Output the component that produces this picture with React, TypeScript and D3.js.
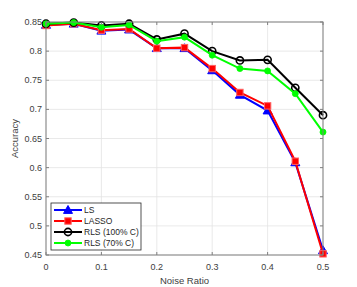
import React from "react";
import * as d3 from "d3";

const noiseRatios = [0, 0.05, 0.1, 0.15, 0.2, 0.25, 0.3, 0.35, 0.4, 0.45, 0.5];
const lsValues = [0.845, 0.847, 0.835, 0.837, 0.805, 0.805, 0.767, 0.725, 0.698, 0.609, 0.458];
const lassoValues = [0.844, 0.847, 0.836, 0.838, 0.805, 0.806, 0.770, 0.729, 0.706, 0.611, 0.452];
const rls100Values = [0.847, 0.849, 0.844, 0.847, 0.820, 0.830, 0.800, 0.784, 0.785, 0.737, 0.690];
const rls70Values = [0.847, 0.849, 0.841, 0.845, 0.817, 0.824, 0.793, 0.770, 0.766, 0.727, 0.661];
const xTicks = [0, 0.1, 0.2, 0.3, 0.4, 0.5];
const yTicks = [0.45, 0.5, 0.55, 0.6, 0.65, 0.7, 0.75, 0.8, 0.85];
const seriesNames = ["LS", "LASSO", "RLS (100% C)", "RLS (70% C)"];

const W = 357, H = 287;
const L = 46, R = 323, T = 22, B = 255;
const font = "Helvetica, Arial, 'Liberation Sans', sans-serif";

const series = [
  { name: seriesNames[0], values: lsValues, color: "#0000ff", marker: "tri" },
  { name: seriesNames[1], values: lassoValues, color: "#ff0000", marker: "sq" },
  { name: seriesNames[2], values: rls100Values, color: "#000000", marker: "circ" },
  { name: seriesNames[3], values: rls70Values, color: "#00ff00", marker: "dot" },
];

function Marker({ type, x, y, color }: { type: string; x: number; y: number; color: string }) {
  if (type === "tri") {
    const s = 4.5;
    return <path d={`M${x},${y - s}L${x + s},${y + s * 0.75}L${x - s},${y + s * 0.75}Z`} fill={color} stroke={color} strokeWidth={1} />;
  }
  if (type === "sq") {
    const s = 3.2;
    return <rect x={x - s} y={y - s} width={2 * s} height={2 * s} fill={color} stroke="#ff6060" strokeWidth={1} />;
  }
  if (type === "circ") {
    return <circle cx={x} cy={y} r={3.6} fill="none" stroke={color} strokeWidth={1.6} />;
  }
  return <circle cx={x} cy={y} r={3} fill={color} stroke={color} strokeWidth={0.8} />;
}

export default function App() {
  const x = d3.scaleLinear().domain([0, 0.5]).range([L, R]);
  const y = d3.scaleLinear().domain([0.45, 0.85]).range([B, T]);
  const line = d3.line<number>().x((_, i) => x(noiseRatios[i])).y((d) => y(d));
  const axisColor = "#808080";
  const textColor = "#404040";
  const legX = 51, legY = 203, legW = 90, legH = 47;

  return (
    <svg width={W} height={H} style={{ position: "absolute", left: 0, top: 0 }}>
      <rect width={W} height={H} fill="#fff" />
      {xTicks.map((t) => (
        <line key={"gx" + t} x1={x(t)} x2={x(t)} y1={T} y2={B} stroke="#e3e3e3" strokeWidth={0.8} />
      ))}
      {yTicks.map((t) => (
        <line key={"gy" + t} x1={L} x2={R} y1={y(t)} y2={y(t)} stroke="#e3e3e3" strokeWidth={0.8} />
      ))}
      {series.map((s) => (
        <g key={s.name}>
          <path d={line(s.values) || ""} fill="none" stroke={s.color} strokeWidth={2} />
          {s.values.map((v, i) => (
            <Marker key={i} type={s.marker} x={x(noiseRatios[i])} y={y(v)} color={s.color} />
          ))}
        </g>
      ))}
      <rect x={L} y={T} width={R - L} height={B - T} fill="none" stroke={axisColor} strokeWidth={1} />
      {xTicks.map((t) => (
        <g key={"tx" + t}>
          <line x1={x(t)} x2={x(t)} y1={B} y2={B - 3} stroke={axisColor} />
          <line x1={x(t)} x2={x(t)} y1={T} y2={T + 3} stroke={axisColor} />
          <text x={x(t)} y={270} textAnchor="middle" fontSize={9} fontFamily={font} fill={textColor}>
            {String(t)}
          </text>
        </g>
      ))}
      {yTicks.map((t) => (
        <g key={"ty" + t}>
          <line x1={L} x2={L + 3} y1={y(t)} y2={y(t)} stroke={axisColor} />
          <line x1={R} x2={R - 3} y1={y(t)} y2={y(t)} stroke={axisColor} />
          <text x={L - 4} y={y(t) + 3} textAnchor="end" fontSize={9} fontFamily={font} fill={textColor}>
            {String(t)}
          </text>
        </g>
      ))}
      <text x={(L + R) / 2} y={284} textAnchor="middle" fontSize={9.5} fontFamily={font} fill={textColor}>
        Noise Ratio
      </text>
      <text
        transform={`translate(18,${(T + B) / 2}) rotate(-90)`}
        textAnchor="middle"
        fontSize={9.5}
        fontFamily={font}
        fill={textColor}
      >
        Accuracy
      </text>
      <rect x={legX} y={legY} width={legW} height={legH} fill="#fff" stroke="#262626" strokeWidth={0.8} />
      {series.map((s, i) => {
        const ly = 210 + i * 11;
        return (
          <g key={"leg" + s.name}>
            <line x1={54} x2={82} y1={ly} y2={ly} stroke={s.color} strokeWidth={2} />
            <Marker type={s.marker} x={68} y={ly} color={s.color} />
            <text x={84} y={ly + 3} fontSize={8.5} fontFamily={font} fill="#262626">
              {s.name}
            </text>
          </g>
        );
      })}
    </svg>
  );
}
